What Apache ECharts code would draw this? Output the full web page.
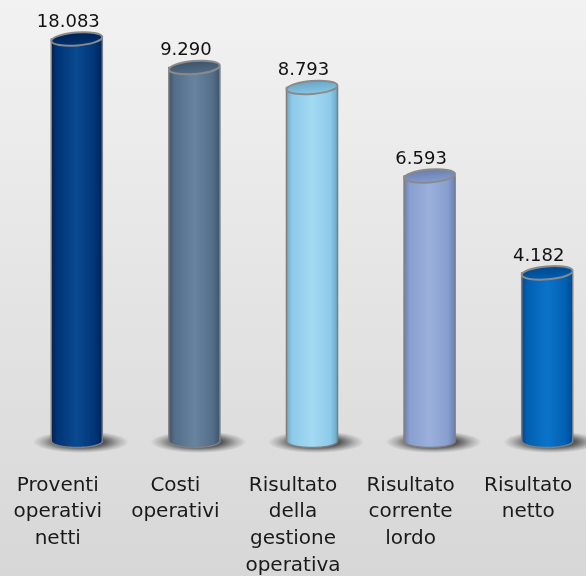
<!DOCTYPE html>
<html><head><meta charset="utf-8">
<script src="https://cdn.jsdelivr.net/npm/echarts@6/dist/echarts.min.js"></script>
<style>html,body{margin:0;padding:0;} #c{width:586px;height:576px;}</style>
</head><body><div id="c"></div>
<script>
var categories = ['Proventi\noperativi\nnetti', 'Costi\noperativi', 'Risultato\ndella\ngestione\noperativa', 'Risultato\ncorrente\nlordo', 'Risultato\nnetto'];
var values = [18083, 9290, 8793, 6593, 4182];
var barColors = [
  ['#00204e', '#003476', '#0a4a90'],
  ['#3c5068', '#546e89', '#67839f'],
  ['#67a2c2', '#8ccaea', '#a4d9f3'],
  ['#677cab', '#879ecf', '#9bb0dc'],
  ['#00468c', '#0060b2', '#0b74c8']
];
var Y_MAX = 10000;

function fmt(v) { return String(v).replace(/\B(?=(\d{3})+(?!\d))/g, '.'); }

function renderItem(params, api) {
  var i = api.value(0), v = api.value(1);
  var base = api.coord([i, 0]);
  var top = api.coord([i, Math.min(v, Y_MAX)]);
  var bw = api.size([1, 0])[0] * 0.434;
  var rx = bw / 2, ry = 6.5;
  var cx = base[0] + 19, by = base[1], ty = top[1];
  var col = barColors[params.dataIndex];
  var pts = [[cx - rx, ty]];
  for (var k = 0; k <= 40; k++) {
    var a = Math.PI - Math.PI * k / 40;
    pts.push([cx + rx * Math.cos(a), by + ry * Math.sin(a)]);
  }
  pts.push([cx + rx, ty]);
  var bodyFill = new echarts.graphic.LinearGradient(0, 0, 1, 0, [
    {offset: 0, color: col[0]}, {offset: 0.12, color: col[1]},
    {offset: 0.5, color: col[2]}, {offset: 0.85, color: col[1]}, {offset: 1, color: col[0]}
  ]);
  var topFill = new echarts.graphic.LinearGradient(0, 0, 0, 1, [
    {offset: 0, color: col[0]}, {offset: 1, color: col[1]}
  ]);
  var shadowFill = new echarts.graphic.RadialGradient(0.5, 0.5, 0.5, [
    {offset: 0, color: 'rgba(0,0,0,0.85)'}, {offset: 0.5, color: 'rgba(0,0,0,0.6)'}, {offset: 0.8, color: 'rgba(0,0,0,0.2)'}, {offset: 1, color: 'rgba(0,0,0,0)'}
  ]);
  return {
    type: 'group',
    children: [
      {type: 'circle', x: cx + 4, y: by + 1, scaleX: 4.8, scaleY: 1.1, shape: {cx: 0, cy: 0, r: 10}, style: {fill: shadowFill}},
      {type: 'polygon', shape: {points: pts}, style: {fill: bodyFill, stroke: '#7f7f7f', lineWidth: 1.5}},
      {type: 'ellipse', x: cx, y: ty, rotation: 0.08, shape: {cx: 0, cy: 0, rx: rx, ry: ry}, style: {fill: topFill, stroke: '#8a8a8a', lineWidth: 2}},
      {type: 'text', x: cx - 8.5, y: ty - 17, style: {text: fmt(v), fontSize: 18, fontFamily: 'DejaVu Sans', fill: '#111', align: 'center', verticalAlign: 'middle'}}
    ]
  };
}

var chart = echarts.init(document.getElementById('c'));
chart.setOption({
  animation: false,
  backgroundColor: {type: 'linear', x: 0, y: 0, x2: 0, y2: 1, colorStops: [{offset: 0, color: '#f2f2f2'}, {offset: 1, color: '#d7d7d7'}]},
  grid: {left: -1, width: 588, top: 39, bottom: 135, outerBoundsMode: 'none', containLabel: false},
  xAxis: {
    type: 'category', data: categories,
    axisLine: {show: false}, axisTick: {show: false}, splitLine: {show: false},
    axisLabel: {interval: 0, margin: 31, fontSize: 20, lineHeight: 26.8, color: '#1a1a1a', fontFamily: 'DejaVu Sans'}
  },
  yAxis: {type: 'value', min: 0, max: Y_MAX, show: false, splitLine: {show: false}},
  series: [{type: 'custom', data: values.map(function (v, i) { return [i, v]; }), renderItem: renderItem, clip: false}]
});
</script>
</body></html>
